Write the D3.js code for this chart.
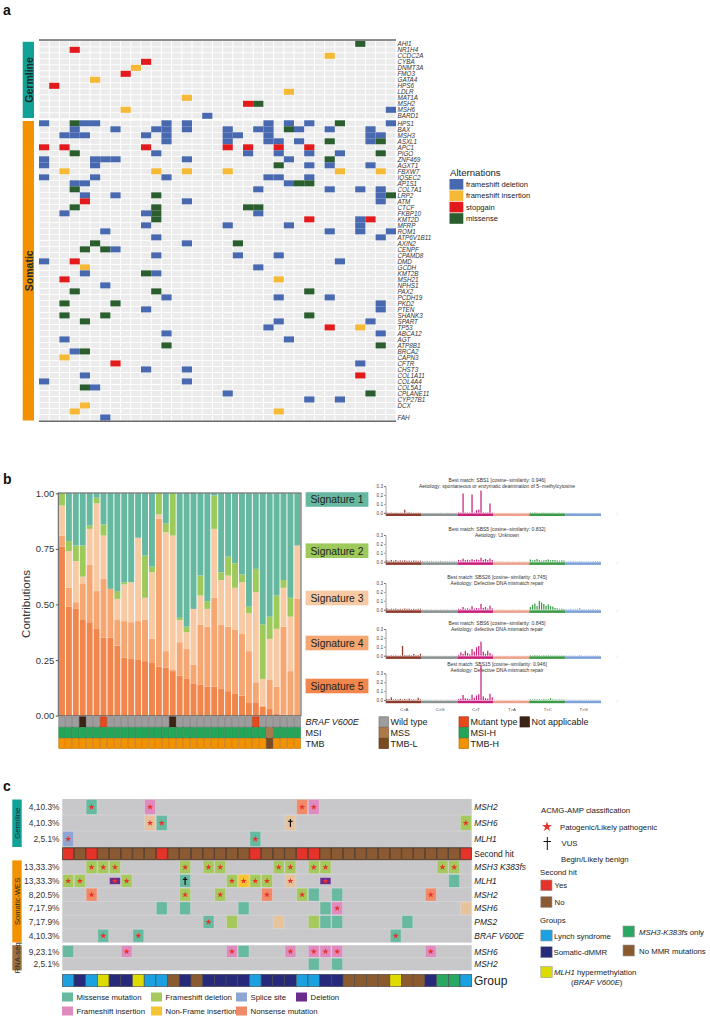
<!DOCTYPE html>
<html><head><meta charset="utf-8">
<script src="https://cdn.jsdelivr.net/npm/d3@7"></script>
<style>html,body{margin:0;padding:0;background:#fff;}svg{display:block;font-family:"Liberation Sans",Arial,Helvetica,sans-serif;}</style>
</head><body>
<svg id="fig" width="710" height="1023"></svg>
<script>
// ================= DATA : panel a =================
const samplesA = d3.range(35);
const germlineGenes = ["AHI1","NR1H4","CCDC2A","CYBA","DNMT3A","FMO3","GATA4","HPS6","LDLR","MAT1A","MSH2","MSH6","BARD1"];
const germlineCalls = [
 [[31,"M"]],[[3,"S"]],[[28,"I"]],[[10,"S"]],[[9,"I"]],[[8,"S"]],[[5,"I"]],[[1,"S"]],[[24,"I"]],[[14,"I"]],
 [[20,"S"],[21,"M"]],[[8,"I"],[34,"D"]],[[16,"D"]]
];
const somaticGenes = ["HPS1","BAX","MSH3","ASXL1","APC1","PIGO","ZNF469","AGXT1","FBXW7","IQSEC2","AP1S1","COL7A1","LRP2","ATM","CTCF","FKBP10","KMT2D","MFRP","ROM1","ATP6V1B11",
 "AXIN2","CENPF","CPAMD8","DMD","GCDH","KMT2B","MSH21","NPHS1","PAX2","PCDH19","PKD2","PTEN","SHANK3","SPART","TP53",
 "ABCA12","AGT","ATP8B1","BRCA2","CAPN3","CFTR","CHST3","COL1A11","COL4A4","COL5A1","CPLANE11","CYP27B1","DCX","","FAH"];
const somaticCalls = [
 [[0,"D"],[3,"M"],[4,"D"],[5,"D"],[12,"D"],[14,"D"],[22,"D"],[24,"D"],[26,"D"],[29,"M"],[34,"D"]],
 [[3,"D"],[7,"D"],[11,"D"],[12,"D"],[14,"D"],[18,"D"],[21,"D"],[22,"D"],[24,"M"],[25,"D"],[28,"D"],[32,"D"]],
 [[2,"D"],[3,"D"],[4,"D"],[10,"D"],[12,"D"],[18,"D"],[19,"D"],[22,"D"],[32,"D"],[33,"D"]],
 [[12,"D"],[18,"D"],[22,"D"],[23,"D"],[25,"D"],[28,"M"],[32,"D"],[33,"M"]],
 [[0,"S"],[2,"S"],[10,"S"],[18,"S"],[20,"S"],[23,"S"],[26,"S"]],
 [[3,"M"],[11,"D"],[20,"D"],[23,"D"],[26,"D"],[29,"D"],[33,"M"]],
 [[0,"D"],[5,"D"],[6,"D"],[7,"D"],[14,"D"],[24,"D"],[28,"M"]],
 [[0,"D"],[5,"D"],[23,"M"],[26,"D"],[28,"D"],[32,"D"]],
 [[2,"I"],[11,"I"],[14,"I"],[18,"I"],[29,"I"],[33,"I"]],
 [[0,"D"],[5,"D"],[12,"D"],[22,"D"],[23,"D"],[26,"D"]],
 [[3,"D"],[4,"D"],[24,"D"],[25,"M"],[26,"M"]],
 [[3,"M"],[21,"D"],[28,"D"],[31,"D"],[33,"D"]],
 [[4,"D"],[7,"D"],[11,"M"],[33,"D"],[34,"M"]],
 [[4,"S"],[14,"D"],[33,"D"]],
 [[3,"M"],[11,"M"],[20,"M"],[21,"M"]],
 [[2,"D"],[10,"D"],[11,"M"],[21,"D"]],
 [[11,"M"],[26,"S"],[31,"D"],[32,"S"]],
 [[10,"D"],[18,"D"],[24,"D"],[31,"D"]],
 [[6,"D"],[28,"D"],[31,"D"],[34,"D"]],
 [[11,"D"],[33,"D"]],
 [[5,"M"],[14,"D"],[19,"M"]],
 [[4,"M"],[6,"M"],[7,"D"]],
 [[11,"D"],[19,"D"],[23,"D"]],
 [[0,"D"],[3,"S"],[29,"D"]],
 [[4,"I"],[21,"D"]],
 [[4,"D"],[10,"M"],[11,"D"]],
 [[2,"S"],[23,"I"]],
 [[6,"D"]],
 [[3,"M"],[11,"M"],[26,"M"]],
 [[12,"D"],[23,"D"],[28,"D"]],
 [[2,"M"],[7,"M"],[33,"D"]],
 [[10,"D"],[33,"D"]],
 [[2,"M"],[6,"M"],[26,"M"]],
 [[4,"M"],[23,"D"],[32,"D"]],
 [[22,"D"],[28,"S"],[31,"I"]],
 [[12,"D"],[33,"D"]],
 [[2,"D"],[24,"D"]],
 [[12,"M"],[33,"M"]],
 [[3,"D"],[4,"M"]],
 [[2,"I"]],
 [[7,"S"],[31,"D"]],
 [[10,"D"],[14,"D"]],
 [[4,"D"],[31,"S"]],
 [[0,"D"],[14,"D"]],
 [[4,"M"],[5,"D"]],
 [[18,"D"],[32,"M"]],
 [[26,"D"],[29,"D"]],
 [[4,"I"]],
 [[3,"I"],[23,"I"]],
 [[6,"D"]]
];
const alterationCodes = ["D","I","S","M"];
const alterationLabels = ["frameshift deletion","frameshift insertion","stopgain","missense"];

// ================= DATA : panel b =================
const samplesB = d3.range(35);
const signatureNames = ["Signature 1","Signature 2","Signature 3","Signature 4","Signature 5"];
const sig1 = [0,0.215,0.235,0.235,0.145,0.02,0.14,0.43,0.44,0.40,0.40,0.20,0.28,0.33,0,0.135,0,0.56,0.60,0.52,0.37,0.485,0.01,0.355,0.285,0.315,0.365,0.51,0.34,0.59,0.555,0.46,0.39,0.47,0.235];
const sig2 = [0.055,0.045,0.07,0.14,0.015,0.025,0.05,0,0.035,0.01,0,0,0.19,0.025,0.095,0.04,0.19,0.01,0.025,0,0.09,0.035,0.15,0.035,0.085,0.11,0.035,0.03,0.105,0.245,0.10,0.15,0.035,0.085,0];
const sig3 = [0.135,0.165,0.185,0.03,0.16,0.395,0.195,0,0.095,0.165,0.18,0.375,0.10,0.30,0.02,0.535,0.605,0.10,0.075,0.25,0.13,0.08,0.31,0.20,0.23,0.19,0.23,0.17,0.405,0.12,0.185,0.26,0.175,0.245,0.24];
const sig4 = [0.05,0.085,0.03,0.165,0.26,0.17,0.265,0.22,0.115,0.165,0.165,0.175,0.185,0.105,0.665,0.075,0.005,0.15,0.135,0.085,0.27,0.27,0.40,0.29,0.29,0.285,0.28,0.23,0.09,0.005,0.13,0.12,0.395,0.20,0.525];
const sig5 = [0.76,0.49,0.48,0.43,0.42,0.39,0.35,0.35,0.315,0.26,0.255,0.25,0.245,0.24,0.22,0.215,0.20,0.18,0.165,0.145,0.14,0.13,0.13,0.12,0.11,0.10,0.09,0.06,0.06,0.04,0.03,0.01,0.005,0,0];
const yTicksB = [0,0.25,0.5,0.75,1];
const brafStatus = ["W","W","W","N","W","W","M","W","W","W","W","W","W","W","W","W","N","W","W","W","W","W","W","W","W","W","W","W","M","W","W","W","W","W","W"];
const msiStatus  = ["H","H","H","H","H","H","H","H","H","H","H","H","H","H","H","H","H","H","H","H","H","H","H","H","H","H","H","H","H","H","S","H","H","H","H"];
const tmbStatus  = ["H","H","H","H","H","H","H","H","H","H","H","H","H","H","H","H","H","H","H","H","H","H","H","H","H","H","H","H","H","H","L","H","H","H","H"];
const bestMatch = ["Best match: SBS1 [cosine\u2212similarity: 0.946]","Best match: SBS5 [cosine\u2212similarity: 0.832]","Best match: SBS26 [cosine\u2212similarity: 0.745]","Best match: SBS6 [cosine\u2212similarity: 0.845]","Best match: SBS15 [cosine\u2212similarity: 0.946]"];
const aetiology = ["Aetiology: spontaneous or enzymatic deamination of 5\u2212methylcytosine","Aetiology: Unknown","Aetiology: Defective DNA mismatch repair","Aetiology: defective DNA mismatch repair","Aetiology: Defective DNA mismatch repair"];
const mutClasses = ["C>A","C>G","C>T","T>A","T>C","T>G"];
const yTicksSpec = [0,0.1,0.2,0.3];
const spectrumSig1 = [
 0.003,0.002,0.004,0.002,0.003,0.002,0.003,0.002,0.035,0.004,0.006,0.003,0.002,0.002,0.003,0.002,
 0.002,0.001,0.001,0.002,0.001,0.002,0.001,0.001,0.002,0.001,0.001,0.002,0.001,0.001,0.002,0.001,
 0.006,0.004,0.217,0.005,0.004,0.003,0.206,0.004,0.03,0.035,0.25,0.006,0.004,0.005,0.105,0.004,
 0.002,0.001,0.001,0.001,0.001,0.002,0.001,0.001,0.001,0.001,0.002,0.001,0.001,0.001,0.001,0.002,
 0.004,0.003,0.006,0.003,0.002,0.003,0.004,0.002,0.003,0.002,0.003,0.002,0.002,0.003,0.002,0.002,
 0.001,0.001,0.002,0.001,0.001,0.001,0.001,0.002,0.001,0.001,0.001,0.001,0.002,0.001,0.001,0.001];
const spectrumSig2 = [
 0.015,0.01,0.02,0.012,0.018,0.01,0.014,0.012,0.016,0.01,0.012,0.01,0.014,0.012,0.01,0.012,
 0.008,0.006,0.01,0.007,0.009,0.006,0.008,0.007,0.01,0.007,0.008,0.006,0.008,0.007,0.009,0.006,
 0.02,0.015,0.035,0.018,0.022,0.015,0.03,0.018,0.025,0.02,0.045,0.02,0.03,0.018,0.035,0.02,
 0.006,0.005,0.007,0.006,0.005,0.004,0.006,0.005,0.006,0.005,0.004,0.005,0.004,0.005,0.006,0.004,
 0.025,0.015,0.02,0.03,0.018,0.012,0.015,0.02,0.025,0.016,0.02,0.018,0.015,0.012,0.016,0.014,
 0.006,0.005,0.008,0.007,0.006,0.005,0.007,0.006,0.005,0.004,0.006,0.005,0.008,0.006,0.007,0.006];
const spectrumSig3 = [
 0.015,0.008,0.012,0.01,0.012,0.008,0.01,0.008,0.014,0.01,0.012,0.008,0.01,0.008,0.01,0.012,
 0.004,0.003,0.004,0.003,0.005,0.003,0.004,0.003,0.004,0.003,0.003,0.004,0.003,0.003,0.004,0.003,
 0.01,0.008,0.03,0.012,0.015,0.01,0.04,0.012,0.02,0.015,0.065,0.02,0.03,0.012,0.045,0.015,
 0.004,0.003,0.004,0.003,0.003,0.004,0.003,0.003,0.004,0.003,0.003,0.004,0.003,0.003,0.004,0.003,
 0.03,0.055,0.07,0.04,0.1,0.08,0.065,0.045,0.06,0.04,0.035,0.02,0.015,0.01,0.012,0.008,
 0.008,0.006,0.01,0.007,0.008,0.012,0.02,0.008,0.006,0.005,0.007,0.006,0.01,0.006,0.008,0.005];
const spectrumSig4 = [
 0.004,0.003,0.006,0.004,0.005,0.003,0.004,0.11,0.008,0.006,0.01,0.005,0.02,0.006,0.008,0.022,
 0.003,0.002,0.003,0.002,0.003,0.002,0.002,0.003,0.002,0.002,0.003,0.002,0.002,0.003,0.002,0.002,
 0.01,0.037,0.02,0.056,0.03,0.015,0.075,0.045,0.094,0.11,0.157,0.045,0.02,0.056,0.03,0.012,
 0.003,0.002,0.002,0.003,0.002,0.002,0.003,0.002,0.002,0.002,0.003,0.002,0.002,0.002,0.003,0.002,
 0.006,0.005,0.008,0.006,0.005,0.004,0.007,0.005,0.006,0.005,0.004,0.005,0.004,0.004,0.005,0.004,
 0.004,0.003,0.005,0.004,0.003,0.003,0.008,0.004,0.003,0.003,0.004,0.003,0.005,0.003,0.004,0.003];
const spectrumSig5 = [
 0.01,0.008,0.03,0.006,0.008,0.005,0.012,0.006,0.01,0.006,0.015,0.005,0.006,0.004,0.025,0.008,
 0.003,0.002,0.003,0.002,0.003,0.002,0.003,0.002,0.003,0.002,0.002,0.003,0.002,0.002,0.003,0.002,
 0.01,0.015,0.056,0.02,0.015,0.01,0.06,0.025,0.05,0.065,0.39,0.04,0.02,0.015,0.07,0.03,
 0.003,0.002,0.003,0.002,0.002,0.003,0.002,0.002,0.003,0.002,0.002,0.003,0.002,0.002,0.003,0.002,
 0.006,0.005,0.008,0.006,0.007,0.005,0.009,0.006,0.008,0.02,0.006,0.005,0.004,0.005,0.006,0.004,
 0.003,0.003,0.004,0.003,0.003,0.003,0.004,0.003,0.003,0.003,0.005,0.003,0.004,0.003,0.003,0.003];

// ================= DATA : panel c =================
const samplesC = d3.range(35);
const cGermGenes = ["MSH2","MSH6","MLH1"];
const cGermFreq = ["4,10.3%","4,10.3%","2,5.1%"];
const cGermCalls = [
 [[2,"MS","P"],[7,"FI","P"],[20,"NS","P"],[21,"FI","P"]],
 [[7,"TN","P"],[8,"MS","P"],[19,"TN","V"],[34,"FD","P"]],
 [[0,"SS","P"],[16,"MS","P"]]
];
const secondHitYes = [0,2,8,16,20,21,34];
const cSomGenes = ["MSH3 K383fs","MLH1","MSH2","MSH6","PMS2","BRAF V600E"];
const cSomFreq = ["13,33.3%","13,33.3%","8,20.5%","7,17.9%","7,17.9%","4,10.3%"];
const cSomCalls = [
 [[2,"FD","P"],[3,"FD","P"],[4,"FD","P"],[10,"FD","P"],[12,"FD","P"],[13,"FD","P"],[18,"FD","P"],[19,"FD","P"],[21,"FD","P"],[22,"FD","P"],[32,"FD","P"],[33,"FD","P"]],
 [[0,"FD","P"],[1,"FD","P"],[4,"DL","P"],[5,"FD","P"],[10,"MS","V"],[14,"FD","P"],[15,"NF","P"],[16,"FD","P"],[17,"FD","P"],[19,"TN","P"],[22,"DL","P"],[33,"MS",""]],
 [[2,"NS","P"],[10,"FD","P"],[13,"FD","P"],[17,"NS","P"],[20,"FD","P"],[21,"MS",""],[23,"MS",""],[31,"NS","P"]],
 [[8,"MS",""],[10,"MS",""],[15,"MS",""],[22,"MS",""],[23,"FI","P"],[34,"TN",""]],
 [[12,"MS","P"],[14,"FD",""],[18,"TN",""],[21,"FD",""],[22,"MS",""],[23,"MS",""],[29,"MS",""]],
 [[3,"MS","P"],[6,"MS","P"],[28,"MS","P"]]
];
const cRnaGenes = ["MSH6","MSH2"];
const cRnaFreq = ["9,23.1%","2,5.1%"];
const cRnaCalls = [
 [[0,"MS",""],[5,"FI","P"],[14,"FI","P"],[15,"MS",""],[19,"FI","P"],[21,"FI","P"],[22,"FI","P"],[23,"FI","P"],[31,"FI","P"]],
 [[21,"MS",""],[23,"MS",""]]
];
const groupOfSample = ["LS","SD","LS","MH","SD","SD","MH","LS","LS","NO","SD","NO","SD","SD","SD","SD","LS","SD","SD","SD","LS","LS","SD","SD","NO","NO","NO","NO","MH","NO","NO","SD","K3","K3","LS"];
const mutTypeCodes = ["MS","FD","SS","DL","FI","NF","NS"];
const mutTypeLabels = ["Missense mutation","Frameshift deletion","Splice site","Deletion","Frameshift insertion","Non-Frame insertion","Nonsense mutation"];

// ================= DRAWING =================
const svg = d3.select("#fig");
const txt = (g,x,y,s,size,opt={}) => {
  const t = g.append("text").attr("x",x).attr("y",y).style("font-size",size+"px").attr("fill",opt.fill||"#222").text(s);
  if(opt.anchor) t.attr("text-anchor",opt.anchor);
  if(opt.italic) t.style("font-style","italic");
  if(opt.bold) t.style("font-weight","bold");
  if(opt.mid) t.attr("dominant-baseline","central");
  return t;
};
// panel letters
[["a",15],["b",484],["c",791]].forEach(([l,y])=>txt(svg,3,y,l,14,{bold:true,fill:"#111"}));

// ---------- panel a ----------
const gA = svg.append("g");
const altColor = d3.scaleOrdinal().domain(alterationCodes).range(["#4868b0","#f6b935","#e31a1c","#2a5e2e"]);
const xA = d3.scaleBand().domain(samplesA).range([39,396]).paddingInner(0.1).paddingOuter(0.05);
const yGerm = d3.scaleBand().domain(d3.range(germlineGenes.length)).range([41.3,118.3]).paddingInner(0.16);
const ySom = d3.scaleBand().domain(d3.range(somaticGenes.length)).range([120.8,420]).paddingInner(0.16);
function drawBlockA(genes, calls, y){
  genes.forEach((g,gi)=>{
    gA.append("g").selectAll("rect").data(samplesA).join("rect")
      .attr("x",s=>xA(s)).attr("y",y(gi)).attr("width",xA.bandwidth()).attr("height",y.bandwidth()).attr("fill","#ebebeb");
    gA.append("g").selectAll("rect").data(calls[gi]).join("rect")
      .attr("x",d=>xA(d[0])-0.5).attr("y",y(gi)-0.5).attr("width",xA.bandwidth()+1).attr("height",y.bandwidth()+1).attr("fill",d=>altColor(d[1]));
  });
  gA.append("g").selectAll("text").data(genes).join("text")
    .attr("x",397.5).attr("y",(g,i)=>y(i)+y.bandwidth()/2).attr("dy","0.35em")
    .style("font-size","6.3px").style("font-style","italic").attr("fill","#333").text(g=>g);
}
drawBlockA(germlineGenes, germlineCalls, yGerm);
drawBlockA(somaticGenes, somaticCalls, ySom);
gA.append("line").attr("x1",39).attr("x2",396).attr("y1",40).attr("y2",40).attr("stroke","#666").attr("stroke-width",1.4);
gA.append("line").attr("x1",39).attr("x2",396).attr("y1",421.3).attr("y2",421.3).attr("stroke","#666").attr("stroke-width",1.4);
// side group bars
[[41.8,118,"#10a297","Germline"],[121,420.5,"#f39200","Somatic"]].forEach(([y0,y1,c,l])=>{
  gA.append("rect").attr("x",22.7).attr("y",y0).attr("width",11.3).attr("height",y1-y0).attr("fill",c);
  gA.append("text").attr("transform",`translate(28.6,${(y0+y1)/2}) rotate(-90)`).attr("text-anchor","middle").attr("dominant-baseline","central")
    .style("font-size","10.5px").style("font-weight","bold").attr("fill","#1e2a2a").text(l);
});
// legend
txt(gA,450,175.5,"Alternations",9.6,{fill:"#222"});
alterationCodes.forEach((c,i)=>{
  gA.append("rect").attr("x",449.5).attr("y",179+i*11.4).attr("width",13.8).attr("height",10.6).attr("fill",altColor(c));
  txt(gA,466,184.4+i*11.4,alterationLabels[i],7.6,{mid:true,fill:"#222"});
});

// ---------- panel b ----------
const gB = svg.append("g");
const sigColors = ["#66b9a0","#9dca5b","#f8caa3","#f5a671","#f0864b"];
const xB = d3.scaleBand().domain(samplesB).range([58.5,300.8]).paddingInner(0.14).paddingOuter(0.07);
const yB = d3.scaleLinear().domain([0,1]).range([715.6,493.3]);
const tableB = samplesB.map(i=>({s5:sig5[i],s4:sig4[i],s3:sig3[i],s2:sig2[i],s1:sig1[i]}));
const keysB = ["s5","s4","s3","s2","s1"];
const colB = {s1:sigColors[0],s2:sigColors[1],s3:sigColors[2],s4:sigColors[3],s5:sigColors[4]};
const stackB = d3.stack().keys(keysB)(tableB);
gB.append("g").selectAll("g").data(stackB).join("g").attr("fill",d=>colB[d.key])
  .selectAll("rect").data(d=>d).join("rect")
  .attr("x",(d,i)=>xB(i)).attr("width",xB.bandwidth())
  .attr("y",d=>yB(d[1])).attr("height",d=>Math.max(0,yB(d[0])-yB(d[1])));
gB.append("rect").attr("x",58.3).attr("y",493).attr("width",242.7).attr("height",222.8).attr("fill","none").attr("stroke","#555").attr("stroke-width",1);
const axB = gB.append("g").attr("transform","translate(58.3,0)").call(d3.axisLeft(yB).tickValues(yTicksB).tickFormat(d3.format(".2f")).tickSize(2.5).tickPadding(1.5));
axB.select(".domain").remove();
axB.selectAll("text").style("font-size","9.5px").attr("fill","#333").style("font-family",'"Liberation Sans",Arial,sans-serif');
axB.selectAll("line").attr("stroke","#555");
gB.append("text").attr("transform","translate(25.5,604) rotate(-90)").attr("text-anchor","middle").attr("dominant-baseline","central").style("font-size","11.5px").attr("fill","#333").text("Contributions");
// signature boxes
const sigBoxY = [499.5,550.7,598,643,686];
signatureNames.forEach((n,i)=>{
  gB.append("rect").attr("x",305.6).attr("y",sigBoxY[i]-7.3).attr("width",62.8).attr("height",14.6).attr("fill",sigColors[i]);
  txt(gB,337,sigBoxY[i]+0.3,n,10.4,{anchor:"middle",mid:true,fill:"#222"});
});
// tracks
const brafCol = {W:"#9d9d9d",M:"#e6491b",N:"#3c2415"};
const msiCol = {H:"#24a659",S:"#ab7a48"};
const tmbCol = {H:"#f39200",L:"#7a4b1f"};
const stepB = xB.step();
[[brafStatus,brafCol,716.8,"BRAF V600E",true],[msiStatus,msiCol,727.6,"MSI",false],[tmbStatus,tmbCol,738.3,"TMB",false]].forEach(([arr,cmap,y0,lab,it])=>{
  gB.append("g").selectAll("rect").data(arr).join("rect")
    .attr("x",(d,i)=>xB(i)-(stepB-xB.bandwidth())/2+0.3).attr("y",y0).attr("width",stepB-0.6).attr("height",10.2)
    .attr("fill",d=>cmap[d]).attr("stroke",d=>d3.color(cmap[d]).darker(0.7)).attr("stroke-width",0.6);
  txt(gB,305.5,y0+5.4,lab,9,{mid:true,italic:it,fill:"#222"});
});
// track legend
const trLeg = [
 [379,716.8,"#9d9d9d","Wild type"],[459,716.8,"#e6491b","Mutant type"],[520,716.8,"#3c2415","Not applicable"],
 [379,727.6,"#ab7a48","MSS"],[459,727.6,"#24a659","MSI-H"],
 [379,738.3,"#7a4b1f","TMB-L"],[459,738.3,"#f39200","TMB-H"]];
trLeg.forEach(([x,y,c,l])=>{
  gB.append("rect").attr("x",x).attr("y",y).attr("width",9.4).attr("height",10.2).attr("fill",c).attr("stroke",d3.color(c).darker(0.8)).attr("stroke-width",0.7);
  txt(gB,x+11.5,y+5.4,l,9,{mid:true,fill:"#222"});
});
// mutational spectra
const spectra = [spectrumSig1,spectrumSig2,spectrumSig3,spectrumSig4,spectrumSig5];
const specBase = [512.8,561.7,609.7,655.7,700];
const specTitle = [479.8,529.3,577.4,623.4,664.2];
const classCols = ["#8e3b2e","#8b9292","#c8207d","#eba18b","#3d9b48","#7da1d8"];
const xS = d3.scaleBand().domain(d3.range(96)).range([386.2,600.5]).paddingInner(0.45);
spectra.forEach((sp,k)=>{
  const y0 = specBase[k];
  const yS = d3.scaleLinear().domain([0,0.3]).range([y0,y0-26.7]);
  const g = gB.append("g");
  txt(g,497,specTitle[k],bestMatch[k],5,{anchor:"middle",mid:true,fill:"#333"});
  txt(g,497,specTitle[k]+5.8,aetiology[k],5,{anchor:"middle",mid:true,fill:"#333"});
  g.append("g").selectAll("rect").data(sp).join("rect")
    .attr("x",(d,i)=>xS(i)).attr("width",xS.bandwidth())
    .attr("y",d=>yS(d)).attr("height",d=>y0-yS(d)).attr("fill",(d,i)=>classCols[Math.floor(i/16)]);
  mutClasses.forEach((m,ci)=>{
    g.append("rect").attr("x",xS(ci*16)-xS.step()*xS.paddingInner()/2).attr("y",y0+0.6).attr("width",xS.step()*16).attr("height",2.6).attr("fill",classCols[ci]);
  });
  const ax = g.append("g").attr("transform","translate(385.5,0)").call(d3.axisLeft(yS).tickValues(yTicksSpec).tickFormat(d3.format(".1f")).tickSize(1.5).tickPadding(1));
  ax.select(".domain").attr("stroke","#444").attr("stroke-width",0.5);
  ax.selectAll("line").attr("stroke","#444").attr("stroke-width",0.5);
  ax.selectAll("text").style("font-size","4.6px").attr("fill","#444").style("font-family",'"Liberation Sans",Arial,sans-serif');
  g.append("line").attr("x1",617.3).attr("x2",617.3).attr("y1",y0-0.5).attr("y2",y0+3).attr("stroke","#ddd").attr("stroke-width",0.6);
  if(k===4){
    mutClasses.forEach((m,ci)=>txt(g,xS(ci*16)+xS.step()*8,709.5,m,4.2,{anchor:"middle",mid:true,fill:"#444"}));
  }
});

// ---------- panel c ----------
const gC = svg.append("g");
const mutCol = {MS:"#67b9a0",FD:"#a5c95c",SS:"#8fa6d2",DL:"#6b2c8e",FI:"#e08bc0",NF:"#f7c431",NS:"#f08a69",TN:"#e7c39d"};
const grpCol = {LS:"#1ba0e0",SD:"#272a7b",MH:"#dedb00",K3:"#28a862",NO:"#8b5a2e"};
const xC = d3.scaleBand().domain(samplesC).range([62.3,471.7]);
const yCG = d3.scaleBand().domain(d3.range(3)).range([799,847]);
const yCS = d3.scaleBand().domain(d3.range(6)).range([860.4,942.6]);
const yCR = d3.scaleBand().domain(d3.range(2)).range([945.2,970.4]);
const star = d3.symbol(d3.symbolStar).size(12);
function drawBlockC(genes,freq,calls,y){
  const [r0,r1] = y.range();
  gC.append("rect").attr("x",62.3).attr("y",r0).attr("width",409.4).attr("height",r1-r0).attr("fill","#c8c8ca");
  genes.forEach((g,gi)=>{
    if(gi>0) gC.append("line").attr("x1",62.3).attr("x2",471.7).attr("y1",y(gi)).attr("y2",y(gi)).attr("stroke","#d6d6d8").attr("stroke-width",0.8);
    gC.append("g").selectAll("rect").data(calls[gi]).join("rect")
      .attr("x",d=>xC(d[0])+0.4).attr("width",xC.bandwidth()-0.8)
      .attr("y",d=>d[1]==="DL"? y(gi)+y.bandwidth()*0.25 : y(gi)+0.4)
      .attr("height",d=>d[1]==="DL"? y.bandwidth()*0.5 : y.bandwidth()-0.8)
      .attr("fill",d=>mutCol[d[1]]).attr("stroke","#e2e2e2").attr("stroke-opacity",0.45).attr("stroke-width",0.8);
    gC.append("g").selectAll("path").data(calls[gi].filter(d=>d[2]==="P")).join("path")
      .attr("d",star).attr("transform",d=>`translate(${xC(d[0])+xC.bandwidth()/2},${y(gi)+y.bandwidth()/2})`).attr("fill","#e8322a");
    gC.append("g").selectAll("path").data(calls[gi].filter(d=>d[2]==="V")).join("path")
      .attr("d",d=>{const cx=xC(d[0])+xC.bandwidth()/2, cy=y(gi)+y.bandwidth()/2; return `M${cx},${cy-4}V${cy+4}M${cx-2.2},${cy-1.6}H${cx+2.2}`;})
      .attr("stroke","#111").attr("stroke-width",1.2).attr("fill","none");
    txt(gC,59.5,y(gi)+y.bandwidth()/2,freq[gi],8.4,{anchor:"end",mid:true,fill:"#333"});
    txt(gC,474.3,y(gi)+y.bandwidth()/2,genes[gi],8.4,{mid:true,italic:true,fill:"#222"});
  });
}
drawBlockC(cGermGenes,cGermFreq,cGermCalls,yCG);
drawBlockC(cSomGenes,cSomFreq,cSomCalls,yCS);
drawBlockC(cRnaGenes,cRnaFreq,cRnaCalls,yCR);
// second hit
gC.append("rect").attr("x",62.3).attr("y",847).attr("width",409.4).attr("height",13.4).attr("fill","#777");
gC.append("g").selectAll("rect").data(samplesC).join("rect")
  .attr("x",s=>xC(s)+0.35).attr("y",848).attr("width",xC.bandwidth()-0.7).attr("height",11.6)
  .attr("fill",s=>secondHitYes.includes(s)?"#e63329":"#8b5a32").attr("stroke","#4d3422").attr("stroke-width",0.6);
txt(gC,474.3,853.8,"Second hit",8.4,{mid:true,fill:"#222"});
// group row
gC.append("g").selectAll("rect").data(samplesC).join("rect")
  .attr("x",s=>xC(s)).attr("y",974.3).attr("width",xC.bandwidth()).attr("height",12.4)
  .attr("fill",s=>grpCol[groupOfSample[s]]).attr("stroke","#4a4a4a").attr("stroke-width",0.6);
txt(gC,474,980.8,"Group",12,{mid:true,fill:"#222"});
// side bars
[[799.5,847,"#10a297","Germline"],[860.4,942.4,"#f39200","Somatic-WES"],[945.2,970.4,"#a0703c","RNA-seq"]].forEach(([y0,y1,c,l])=>{
  gC.append("rect").attr("x",12.3).attr("y",y0).attr("width",9.4).attr("height",y1-y0).attr("fill",c);
  gC.append("text").attr("transform",`translate(17,${(y0+y1)/2}) rotate(-90)`).attr("text-anchor","middle").attr("dominant-baseline","central")
    .style("font-size","7.6px").attr("fill","#1d2b2b").text(l);
});
// ACMG legend
txt(gC,541,810,"ACMG-AMP classification",7.8,{mid:true,fill:"#222"});
gC.append("path").attr("d",d3.symbol(d3.symbolStar).size(30)).attr("transform","translate(547,826.7)").attr("fill","#e8322a");
txt(gC,560,827,"Patogenic/Likely pathogenic",7.8,{mid:true,fill:"#222"});
gC.append("path").attr("d","M547.3,837V850M543.5,841.5H551").attr("stroke","#111").attr("stroke-width",1).attr("fill","none");
txt(gC,561.5,843,"VUS",7.8,{mid:true,fill:"#222"});
txt(gC,561,859,"Begin/Likely benign",7.8,{mid:true,fill:"#222"});
txt(gC,540,872.7,"Second hit",7.8,{mid:true,fill:"#222"});
[[880,"#e63329","Yes"],[896.7,"#8b5a32","No"]].forEach(([y,c,l])=>{
  gC.append("rect").attr("x",540.8).attr("y",y).attr("width",11.2).attr("height",10.7).attr("fill",c).attr("stroke","#999").attr("stroke-width",0.6);
  txt(gC,554.5,y+5.3,l,7.8,{mid:true,fill:"#222"});
});
txt(gC,540,920.7,"Groups",7.8,{mid:true,fill:"#222"});
const grpLeg = [[540.8,930,"LS"],[540.8,946.7,"SD"],[540.8,966.6,"MH"],[623,926,"K3"],[623,945,"NO"]];
grpLeg.forEach(([x,y,k])=>gC.append("rect").attr("x",x).attr("y",y).attr("width",11.4).attr("height",11).attr("fill",grpCol[k]).attr("stroke","#999").attr("stroke-width",0.6));
txt(gC,554,936,"Lynch syndrome",7.8,{mid:true,fill:"#222"});
txt(gC,553.5,952.3,"Somatic-dMMR",7.8,{mid:true,fill:"#222"});
const mh = txt(gC,554,972,"",7.8,{mid:true,fill:"#222"});
mh.append("tspan").style("font-style","italic").text("MLH1");
mh.append("tspan").text(" hypermethylation");
const bv = txt(gC,571,982.3,"",7.8,{mid:true,fill:"#222"});
bv.append("tspan").text("(");
bv.append("tspan").style("font-style","italic").text("BRAF V600E");
bv.append("tspan").text(")");
const k3 = txt(gC,639,932,"",7.8,{mid:true,fill:"#222"});
k3.append("tspan").style("font-style","italic").text("MSH3-K383fs");
k3.append("tspan").text(" only");
txt(gC,639,951,"No MMR mutations",7.8,{mid:true,fill:"#222"});
// mutation type legend
const mtPos = [[62,997],[151,997],[236,997],[296,997],[62,1011],[151,1011],[236,1011]];
mutTypeCodes.forEach((c,i)=>{
  const [x,y] = mtPos[i];
  gC.append("rect").attr("x",x).attr("y",y-4.5).attr("width",11).attr("height",9).attr("fill",mutCol[c]);
  txt(gC,x+14.5,y,mutTypeLabels[i],7.8,{mid:true,fill:"#222"});
});
</script>
</body></html>
